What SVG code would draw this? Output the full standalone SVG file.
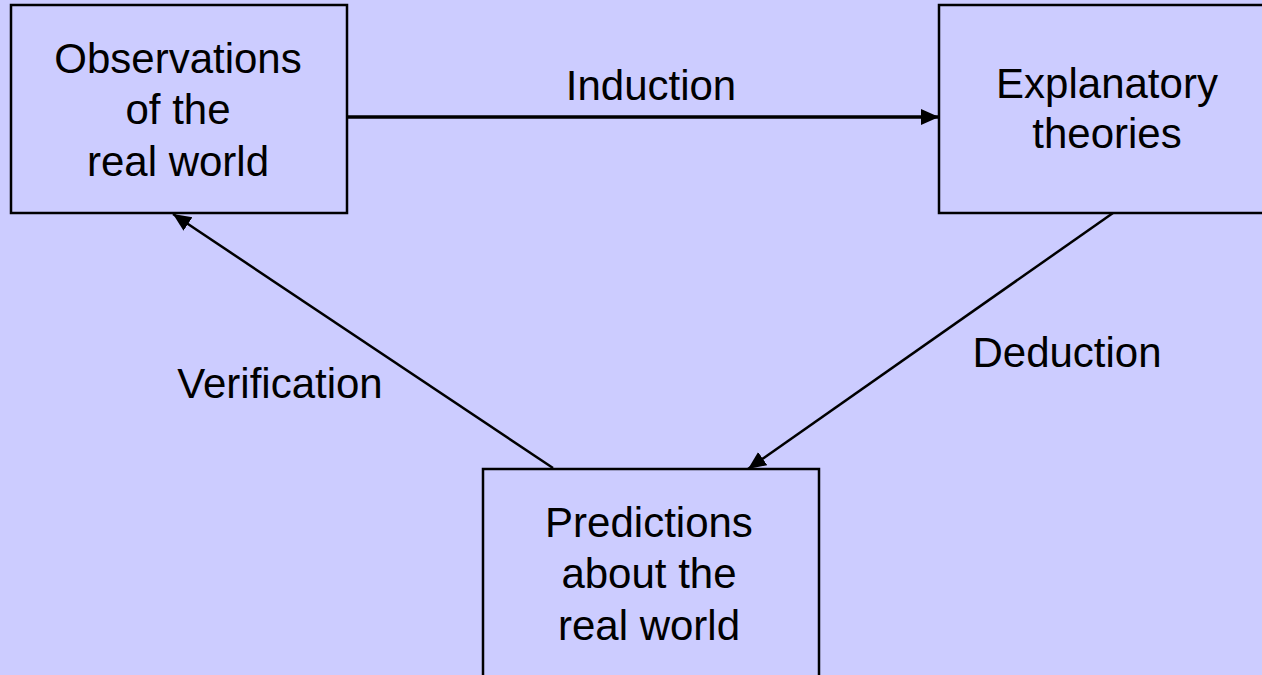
<svg xmlns="http://www.w3.org/2000/svg" width="1262" height="675" viewBox="0 0 1262 675">
<style>
.box{fill:#ccccff;stroke:#000;stroke-width:2.5}
.t{font-family:"Liberation Sans",Arial,sans-serif;font-size:42px;fill:#000;text-anchor:middle}
.c{stroke:#000;fill:none}
</style>
<defs>
<marker id="ah" markerUnits="userSpaceOnUse" markerWidth="20" markerHeight="18" refX="18" refY="8" orient="auto">
<path d="M0,0 L18,8 L0,16 Z" fill="#000"/>
</marker>
</defs>
<rect width="1262" height="675" fill="#ccccff"/>
<g id="observations">
<rect class="box" x="11" y="5" width="336" height="208"/>
<text class="t" x="178" y="73">Observations</text>
<text class="t" x="178" y="124">of the</text>
<text class="t" x="178" y="176">real world</text>
</g>
<g id="theories">
<rect class="box" x="939" y="5" width="336" height="208"/>
<text class="t" x="1107" y="98">Explanatory</text>
<text class="t" x="1107" y="148">theories</text>
</g>
<g id="predictions">
<rect class="box" x="483" y="469" width="336" height="210"/>
<text class="t" x="649" y="537">Predictions</text>
<text class="t" x="649" y="588">about the</text>
<text class="t" x="649" y="640">real world</text>
</g>
<g id="connectors">
<line class="c" x1="347" y1="117" x2="939" y2="117" stroke-width="3.5" marker-end="url(#ah)"/>
<line class="c" x1="1113" y1="213" x2="748" y2="469" stroke-width="2.5" marker-end="url(#ah)"/>
<line class="c" x1="553" y1="468" x2="173" y2="214" stroke-width="2.5" marker-end="url(#ah)"/>
<text class="t" x="651" y="100">Induction</text>
<text class="t" x="1067" y="367">Deduction</text>
<text class="t" x="280" y="398">Verification</text>
</g>
</svg>
